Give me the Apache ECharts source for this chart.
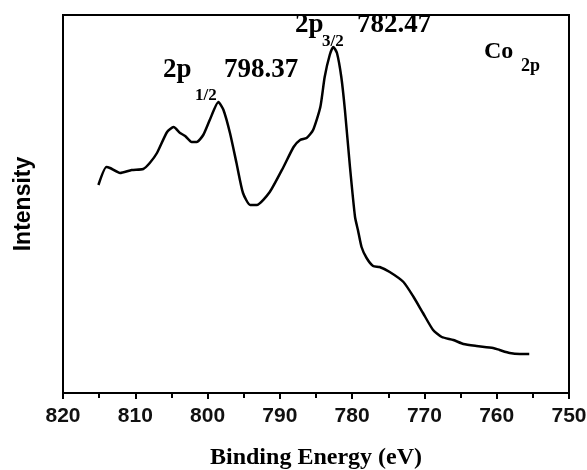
<!DOCTYPE html>
<html lang="en">
<head>
    <meta charset="UTF-8">
    <title>Co 2p XPS</title>
    <script src="https://cdn.jsdelivr.net/npm/echarts@6/dist/echarts.min.js"></script>
    <style>
        html, body { margin: 0; padding: 0; background: #fff; }
    </style>
</head>
<body>
<div id="main" style="width:587px;height:470px;"></div>
<script>
    // binding energy (eV) and intensity (arb. units)
    const energy = [815.1, 814.0, 813.5, 812.1, 810.5, 808.9, 808.0, 807.0, 805.6, 804.7,
        803.8, 803.1, 802.2, 801.5, 800.6, 799.7, 798.5, 797.8, 796.9, 796.0,
        795.1, 794.1, 793.2, 791.4, 789.5, 788.1, 787.2, 786.3, 785.4, 784.4,
        783.8, 783.1, 782.6, 782.1, 781.5, 781.0, 780.3, 779.6, 779.2, 778.7,
        778.0, 777.1, 776.2, 774.8, 772.9, 771.5, 770.2, 768.8, 767.6, 766.0,
        764.6, 762.8, 760.5, 759.6, 758.2, 756.8, 755.5];
    const intensity = [208, 226, 225, 220, 223, 224, 230, 240, 261, 266,
        260, 257, 251, 251, 258, 273, 291, 283, 260, 230,
        200, 188, 188, 201, 226, 246, 253, 255, 263, 286,
        316, 338, 346, 340, 316, 283, 226, 176, 163, 146,
        135, 127, 126, 121, 111, 96, 80, 63, 56, 53,
        49, 47, 45, 43, 40, 39, 39];
    const xTicks = [750, 820, 10];

    const serif = '"Liberation Serif", "Times New Roman", serif';
    const sans = '"Liberation Sans", Arial, sans-serif';

    let chart = echarts.init(document.getElementById('main'), null, { renderer: 'canvas' });

    function label(txt, x, y, size) {
        return {
            type: 'text', x: x, y: y, silent: true,
            style: {
                text: txt, fill: '#000', align: 'left', verticalAlign: 'middle',
                font: 'bold ' + size + 'px ' + serif
            }
        };
    }

    let option = {
        animation: false,
        backgroundColor: '#fff',
        grid: {
            left: 63, right: 18, top: 15, bottom: 77,
            outerBoundsMode: 'none', containLabel: false,
            show: true, borderColor: '#000', borderWidth: 2
        },
        xAxis: {
            type: 'value', inverse: true,
            min: xTicks[0], max: xTicks[1], interval: xTicks[2],
            name: 'Binding Energy (eV)', nameLocation: 'middle', nameGap: 53,
            nameTextStyle: { fontFamily: serif, fontWeight: 'bold', fontSize: 24, color: '#000' },
            axisLine: { lineStyle: { color: '#000', width: 2 } },
            axisTick: { inside: false, length: 6, lineStyle: { color: '#000', width: 2 } },
            minorTick: { show: true, splitNumber: 2, length: 5, lineStyle: { color: '#000', width: 2 } },
            axisLabel: { fontFamily: sans, fontWeight: 'bold', fontSize: 21, color: '#111', margin: 13 },
            splitLine: { show: false }
        },
        yAxis: {
            type: 'value', min: 0, max: 378,
            name: 'Intensity', nameLocation: 'middle', nameGap: 28, nameRotate: 90,
            nameTextStyle: { fontFamily: sans, fontWeight: 'bold', fontSize: 23, color: '#000' },
            axisLine: { show: true, lineStyle: { color: '#000', width: 2 } },
            axisTick: { show: false },
            axisLabel: { show: false },
            splitLine: { show: false }
        },
        series: [{
            type: 'line',
            data: energy.map((e, i) => [e, intensity[i]]),
            showSymbol: false,
            smooth: 0.2,
            lineStyle: { color: '#000', width: 2.5 }
        }],
        graphic: [
            label('2p', 163, 70, 27),
            label('1/2', 195, 96, 17),
            label('798.37', 224, 70, 27),
            label('2p', 295, 25, 27),
            label('3/2', 322, 42, 17),
            label('782.47', 357, 25, 27),
            label('Co', 484, 52, 24),
            label('2p', 521, 66, 18)
        ]
    };

    chart.setOption(option);
</script>
</body>
</html>
